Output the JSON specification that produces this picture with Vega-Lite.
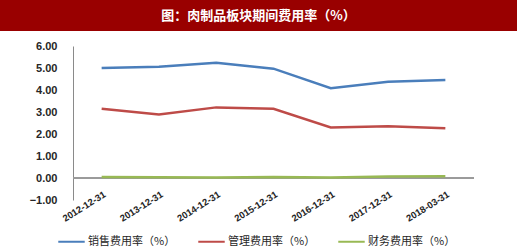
{
  "$schema": "https://vega.github.io/schema/vega-lite/v6.json",
  "padding": 0,
  "background": "white",
  "spacing": 9,
  "config": {"view": {"stroke": null}, "font": "Liberation Sans"},
  "vconcat": [
    {
      "width": 517,
      "height": 31,
      "view": {"fill": "#990000", "stroke": null},
      "data": {"values": [{"t": "图：肉制品板块期间费用率（%）"}]},
      "mark": {"type": "text", "color": "white", "fontSize": 13, "fontWeight": "bold", "font": "Noto Sans CJK SC", "align": "center", "baseline": "middle"},
      "encoding": {"text": {"field": "t", "type": "nominal"}}
    },
    {
      "spacing": 0,
      "resolve": {"scale": {"color": "independent"}, "legend": {"color": "independent"}},
      "hconcat": [
        {
          "width": 23,
          "height": 154,
          "data": {"values": []},
          "mark": {"type": "point", "opacity": 0}
        },
        {
          "width": 401,
          "height": 154,
          "data": {"values": [
            {"d": "2012-12-31", "s": "销售费用率（%）", "v": 5.00},
            {"d": "2013-12-31", "s": "销售费用率（%）", "v": 5.06},
            {"d": "2014-12-31", "s": "销售费用率（%）", "v": 5.24},
            {"d": "2015-12-31", "s": "销售费用率（%）", "v": 4.97},
            {"d": "2016-12-31", "s": "销售费用率（%）", "v": 4.08},
            {"d": "2017-12-31", "s": "销售费用率（%）", "v": 4.38},
            {"d": "2018-03-31", "s": "销售费用率（%）", "v": 4.45},
            {"d": "2012-12-31", "s": "管理费用率（%）", "v": 3.15},
            {"d": "2013-12-31", "s": "管理费用率（%）", "v": 2.89},
            {"d": "2014-12-31", "s": "管理费用率（%）", "v": 3.21},
            {"d": "2015-12-31", "s": "管理费用率（%）", "v": 3.15},
            {"d": "2016-12-31", "s": "管理费用率（%）", "v": 2.30},
            {"d": "2017-12-31", "s": "管理费用率（%）", "v": 2.35},
            {"d": "2018-03-31", "s": "管理费用率（%）", "v": 2.26},
            {"d": "2012-12-31", "s": "财务费用率（%）", "v": 0.05},
            {"d": "2013-12-31", "s": "财务费用率（%）", "v": 0.03},
            {"d": "2014-12-31", "s": "财务费用率（%）", "v": 0.02},
            {"d": "2015-12-31", "s": "财务费用率（%）", "v": 0.05},
            {"d": "2016-12-31", "s": "财务费用率（%）", "v": 0.02},
            {"d": "2017-12-31", "s": "财务费用率（%）", "v": 0.07},
            {"d": "2018-03-31", "s": "财务费用率（%）", "v": 0.08}
          ]},
          "layer": [
            {
              "mark": {"type": "rule", "color": "#9a9a9a", "strokeWidth": 1},
              "encoding": {
                "y": {
                  "datum": 0, "type": "quantitative",
                  "scale": {"domain": [-1, 6], "nice": false, "zero": false},
                  "axis": {"title": null, "values": [-1, 0, 1, 2, 3, 4, 5, 6], "format": ".2f", "grid": false, "ticks": false, "domain": true, "domainColor": "#8a8a8a", "labelPadding": 16, "minExtent": 50, "labelOverlap": false, "labelFlush": false, "labelFontSize": 11, "labelColor": "#262626", "labelFontWeight": "bold"}
                }
              }
            },
            {
              "mark": {"type": "line", "strokeWidth": 2.5},
              "encoding": {
                "x": {
                  "field": "d", "type": "ordinal", "sort": null,
                  "scale": {"type": "point", "padding": 0.5},
                  "axis": {"title": null, "domain": false, "ticks": false, "offset": -12, "labelAngle": -32, "labelAlign": "right", "labelBaseline": "top", "labelPadding": 1, "labelFontSize": 9.5, "labelColor": "#262626", "labelFontWeight": "bold"}
                },
                "y": {
                  "field": "v", "type": "quantitative",
                  "scale": {"domain": [-1, 6], "nice": false, "zero": false},
                  "axis": {"title": null, "values": [-1, 0, 1, 2, 3, 4, 5, 6], "format": ".2f", "grid": false, "ticks": false, "domain": true, "domainColor": "#8a8a8a", "labelPadding": 16, "minExtent": 50, "labelOverlap": false, "labelFlush": false, "labelFontSize": 11, "labelColor": "#262626", "labelFontWeight": "bold"}
                },
                "color": {
                  "field": "s", "type": "nominal",
                  "scale": {"domain": ["销售费用率（%）", "管理费用率（%）", "财务费用率（%）"], "range": ["#4a7ebb", "#be4b48", "#98b954"]},
                  "legend": {"title": null, "orient": "none", "legendX": -16, "legendY": 181, "padding": 0, "direction": "horizontal", "columns": 3, "symbolType": "stroke", "symbolSize": 700, "symbolStrokeWidth": 2, "labelOffset": 2, "columnPadding": 18, "labelFont": "Noto Sans CJK SC", "labelFontSize": 11, "labelColor": "#262626"}
                }
              }
            }
          ]
        }
      ]
    }
  ]
}
